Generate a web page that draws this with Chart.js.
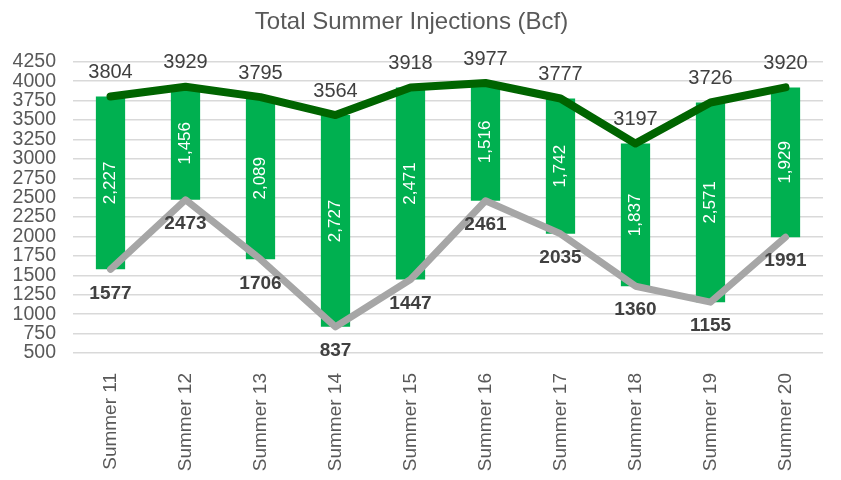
<!DOCTYPE html>
<html>
<head>
<meta charset="utf-8">
<script src="https://cdn.jsdelivr.net/npm/chart.js@4"></script>
<style>
  html, body { margin: 0; padding: 0; background: #fff; }
  #wrap { width: 841px; height: 480px; }
</style>
</head>
<body>
<div id="wrap"><canvas id="grafico"></canvas></div>
<script>
// dados
const categorias = ['Summer 11', 'Summer 12', 'Summer 13', 'Summer 14', 'Summer 15',
  'Summer 16', 'Summer 17', 'Summer 18', 'Summer 19', 'Summer 20'];
const inicio = [1577, 2473, 1706, 837, 1447, 2461, 2035, 1360, 1155, 1991];
const fim = [3804, 3929, 3795, 3564, 3918, 3977, 3777, 3197, 3726, 3920];
const ticksY = [500, 750, 1000, 1250, 1500, 1750, 2000, 2250, 2500, 2750, 3000, 3250, 3500, 3750, 4000, 4250];

const barras = inicio.map((v, i) => [v, fim[i]]);
const fonte = "'Liberation Sans', Arial, sans-serif";

// rotulos (sem plugin datalabels)
const rotulos = {
  id: 'rotulos',
  afterDatasetsDraw(chart) {
    const c = chart.ctx;
    const y = chart.scales.y;
    c.save();
    c.textAlign = 'center';
    c.textBaseline = 'middle';

    // valores das barras
    chart.getDatasetMeta(0).data.forEach((bar, i) => {
      const meio = y.getPixelForValue((inicio[i] + fim[i]) / 2);
      c.save();
      c.translate(bar.x, meio);
      c.rotate(-Math.PI / 2);
      c.font = '17px ' + fonte;
      c.fillStyle = '#ffffff';
      c.fillText((fim[i] - inicio[i]).toLocaleString('en-US'), 0, 0);
      c.restore();
    });

    // linha de cima
    chart.getDatasetMeta(2).data.forEach((p, i) => {
      c.font = '20px ' + fonte;
      c.fillStyle = '#404040';
      c.fillText(String(fim[i]), p.x, p.y - 24);
    });

    // linha de baixo
    chart.getDatasetMeta(1).data.forEach((p, i) => {
      c.font = 'bold 19px ' + fonte;
      c.fillStyle = '#404040';
      c.fillText(String(inicio[i]), p.x, p.y + 24);
    });
    c.restore();
  }
};

const ctx = document.getElementById('grafico');

new Chart(ctx, {
  type: 'bar',
  data: {
    labels: categorias,
    datasets: [{
      type: 'bar',
      label: 'Injection',
      data: barras,
      backgroundColor: '#00B050',
      borderWidth: 0,
      barPercentage: 0.39,
      categoryPercentage: 1,
      order: 3
    }, {
      type: 'line',
      label: 'Start',
      data: inicio,
      borderColor: '#A6A6A6',
      borderWidth: 7,
      pointRadius: 0,
      tension: 0,
      borderCapStyle: 'round',
      borderJoinStyle: 'round',
      order: 2
    }, {
      type: 'line',
      label: 'End',
      data: fim,
      borderColor: '#006400',
      borderWidth: 8,
      pointRadius: 0,
      tension: 0,
      borderCapStyle: 'round',
      borderJoinStyle: 'round',
      order: 1
    }]
  },
  options: {
    responsive: true,
    maintainAspectRatio: false,
    animation: false,
    devicePixelRatio: 1,
    layout: { padding: { left: 0, right: 18, top: 0, bottom: 0 } },
    plugins: {
      legend: { display: false },
      tooltip: { enabled: false },
      title: {
        display: true,
        text: 'Total Summer Injections (Bcf)',
        color: '#595959',
        font: { family: fonte, size: 24, weight: 'normal', lineHeight: 1.2 },
        padding: { top: 8, bottom: 25 }
      }
    },
    scales: {
      x: {
        grid: { display: false },
        border: { display: false },
        ticks: {
          color: '#595959',
          font: { family: fonte, size: 19 },
          maxRotation: 90,
          minRotation: 90,
          padding: 12
        },
        afterFit(scale) { scale.height = 127; }
      },
      y: {
        min: 500,
        max: 4250,
        afterBuildTicks(scale) { scale.ticks = ticksY.map(v => ({ value: v })); },
        grid: { color: '#D9D9D9', lineWidth: 1.5, drawTicks: false },
        border: { display: false },
        ticks: {
          color: '#595959',
          font: { family: fonte, size: 19.5 },
          padding: 17,
          autoSkip: false,
          callback: v => String(v)
        },
        afterFit(scale) { scale.width = 73; }
      }
    }
  },
  plugins: [rotulos]
});
</script>
</body>
</html>
